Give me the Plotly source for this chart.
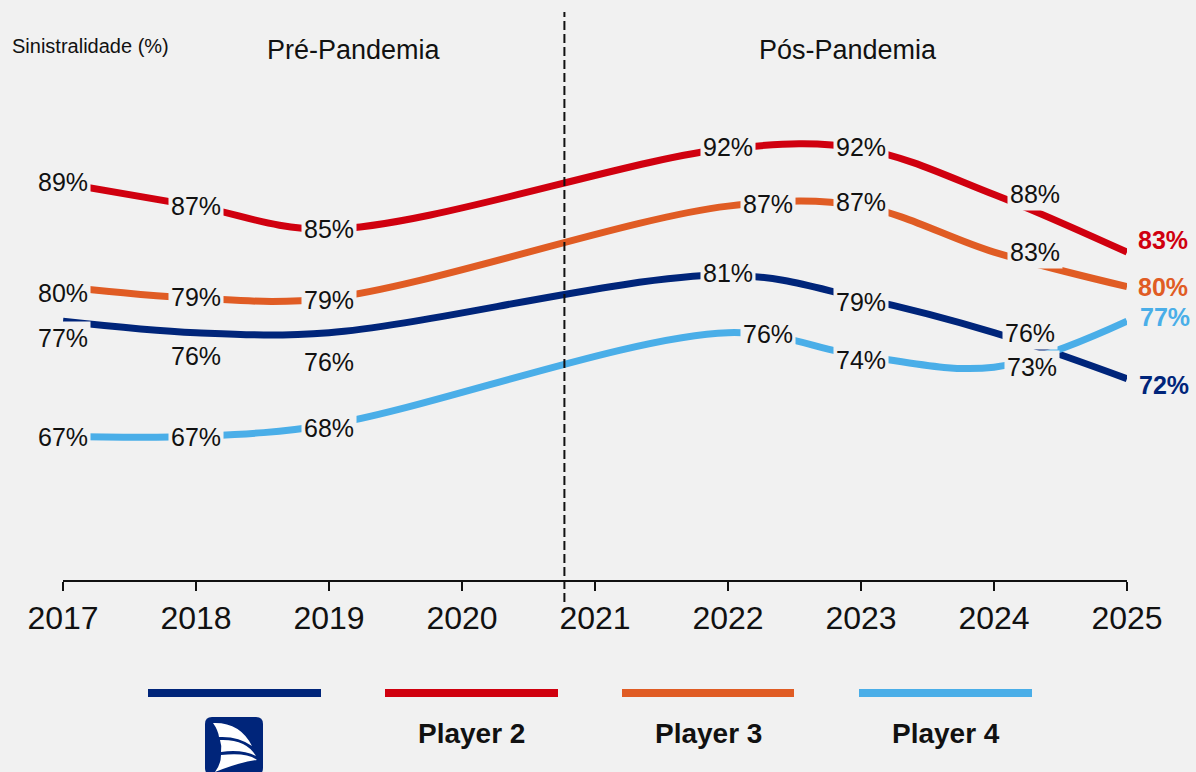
import plotly.graph_objects as go

# ---- data -------------------------------------------------------------
years = [2017, 2018, 2019, 2020, 2021, 2022, 2023, 2024, 2025]
player1 = [77, 76, 76, None, None, 81, 79, 76, 72]
player2 = [89, 87, 85, None, None, 92, 92, 88, 83]
player3 = [80, 79, 79, None, None, 87, 87, 83, 80]
player4 = [67, 67, 68, None, None, 76, 74, 73, 77]
series_names = ["Player 1", "Player 2", "Player 3", "Player 4"]
legend_labels = ["", "Player 2", "Player 3", "Player 4"]
period_labels = ["Pré-Pandemia", "Pós-Pandemia"]
y_title = "Sinistralidade (%)"
pandemic_split = 2020.77

# ---- styling ----------------------------------------------------------
W, H = 1196, 772
M_L, M_R, M_T, M_B = 63, 69, 50, 192
BG = "#f1f1f1"
INK = "#111111"
COLORS = ["#00257a", "#d0000f", "#e05c24", "#4aaee8"]
FONT = "Liberation Sans, Arial, sans-serif"
Y_RANGE = [54.5, 100.57]

# per-label pixel nudges (xshift, yshift), one row per series, one entry per year
SHIFTS = [
    [(0, -17), (0, -23), (0, -29), None, None, (0, 2), (0, -4), (36, 0), (37, -6)],
    [(0, 1), (0, 0), (0, 0), None, None, (0, 2), (0, 2), (41, 1), (36, 12)],
    [(0, -6), (0, 1), (0, -2), None, None, (40, 2), (0, 4), (41, 0), (36, 0)],
    [(0, -1), (0, -1), (0, -3), None, None, (40, -1), (0, -4), (38, 0), (38, 4)],
]

PW = W - M_L - M_R
PH = H - M_T - M_B


def px(xp):
    return (xp - M_L) / PW


def py(yp):
    return (H - M_B - yp) / PH


series = [player1, player2, player3, player4]

fig = go.Figure()
for name, vals, col in zip(series_names, series, COLORS):
    fig.add_trace(go.Scatter(
        x=years, y=vals, name=name, mode="lines", connectgaps=True,
        line=dict(color=col, width=7, shape="spline", smoothing=1.0),
        hoverinfo="skip", showlegend=False,
    ))

annotations = []
last = len(years) - 1
for s, (vals, col) in enumerate(zip(series, COLORS)):
    for i, v in enumerate(vals):
        if v is None:
            continue
        dx, dy = SHIFTS[s][i]
        end = i == last
        annotations.append(dict(
            x=years[i], y=v, xref="x", yref="y", text=f"{v}%",
            showarrow=False, xshift=dx, yshift=dy,
            xanchor="center", yanchor="middle",
            bgcolor=BG, borderpad=2,
            font=dict(family=FONT, size=25,
                      color=col if end else INK,
                      weight="bold" if end else "normal"),
        ))

# headings
annotations.append(dict(x=px(10), y=py(46), xref="paper", yref="paper",
                        text=y_title, showarrow=False,
                        xanchor="left", yanchor="middle",
                        font=dict(family=FONT, size=20, color=INK)))
for label, cx in zip(period_labels, [354, 848]):
    annotations.append(dict(x=px(cx), y=py(50), xref="paper", yref="paper",
                            text=label, showarrow=False,
                            xanchor="center", yanchor="middle",
                            font=dict(family=FONT, size=27, color=INK)))

# legend: coloured bar with caption underneath
shapes = []
legend_x = [(148, 321), (385, 558), (622, 794), (859, 1032)]
for (x0, x1), col, lab in zip(legend_x, COLORS, legend_labels):
    shapes.append(dict(type="line", xref="paper", yref="paper",
                       x0=px(x0), x1=px(x1), y0=py(693), y1=py(693),
                       line=dict(color=col, width=8)))
    if lab:
        annotations.append(dict(x=px((x0 + x1) / 2), y=py(733),
                                xref="paper", yref="paper", text=lab,
                                showarrow=False,
                                xanchor="center", yanchor="middle",
                                font=dict(family=FONT, size=28, color=INK,
                                          weight="bold")))


def path(points, close=True):
    out = []
    for cmd, pts in points:
        coords = " ".join(f"{px(a):.5f},{py(b):.5f}" for a, b in pts)
        out.append(f"{cmd}{coords}")
    return " ".join(out) + (" Z" if close else "")


# brand mark: rounded navy square with three white sails
lx0, ly0, side, r = 205, 717, 58, 7
lx1, ly1 = lx0 + side, ly0 + side
shapes.append(dict(
    type="path", xref="paper", yref="paper", fillcolor=COLORS[0],
    line=dict(width=0),
    path=path([
        ("M", [(lx0 + r, ly0)]), ("L", [(lx1 - r, ly0)]),
        ("Q", [(lx1, ly0), (lx1, ly0 + r)]), ("L", [(lx1, ly1 - r)]),
        ("Q", [(lx1, ly1), (lx1 - r, ly1)]), ("L", [(lx0 + r, ly1)]),
        ("Q", [(lx0, ly1), (lx0, ly1 - r)]), ("L", [(lx0, ly0 + r)]),
        ("Q", [(lx0, ly0), (lx0 + r, ly0)]),
    ]),
))
sails = [
    [("M", [(213, 723)]), ("Q", [(240, 722), (252, 746)]),
     ("Q", [(238, 736), (219, 737)]), ("Q", [(218, 730), (213, 723)])],
    [("M", [(220, 740)]), ("Q", [(246, 739), (256, 756)]),
     ("Q", [(242, 749), (221, 752)]), ("Q", [(222, 746), (220, 740)])],
    [("M", [(221, 755)]), ("Q", [(247, 752), (257, 760)]),
     ("Q", [(240, 762), (215, 772)]), ("Q", [(221, 764), (221, 755)])],
]
for sp in sails:
    shapes.append(dict(type="path", xref="paper", yref="paper",
                       fillcolor="white", line=dict(width=0), path=path(sp)))

# pandemic divider
shapes.append(dict(type="line", xref="x", yref="paper",
                   x0=pandemic_split, x1=pandemic_split,
                   y0=py(602), y1=py(12),
                   line=dict(color=INK, width=2, dash="9px,4px")))

fig.update_layout(
    width=W, height=H,
    margin=dict(l=M_L, r=M_R, t=M_T, b=M_B, pad=0),
    paper_bgcolor=BG, plot_bgcolor=BG,
    showlegend=False,
    xaxis=dict(range=[years[0], years[-1]], tickvals=years,
               ticktext=[str(y) for y in years],
               showline=True, linecolor=INK, linewidth=2,
               ticks="outside", ticklen=9, tickwidth=2, tickcolor=INK,
               showgrid=False, zeroline=False,
               tickfont=dict(family=FONT, size=32, color=INK)),
    yaxis=dict(range=Y_RANGE, visible=False, showgrid=False, zeroline=False),
    annotations=annotations,
    shapes=shapes,
)

fig.write_html("out.html")
